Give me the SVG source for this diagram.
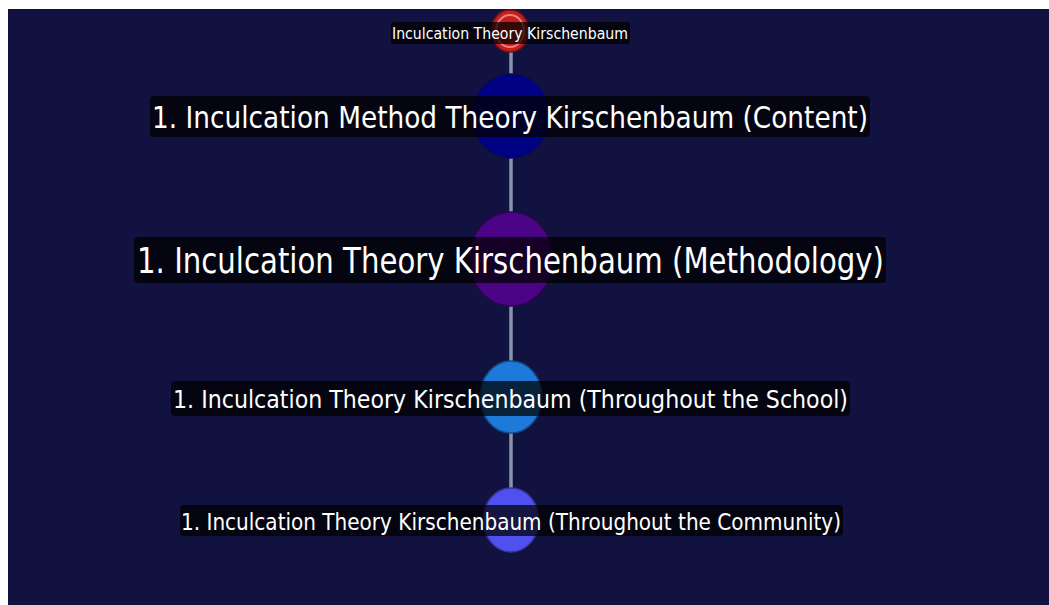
<svg xmlns="http://www.w3.org/2000/svg" width="1049" height="605" viewBox="0 0 1049 605">
  <style>
    .edge { stroke: #8595ad; stroke-width: 3.5; fill: none; }
    .lblbg { fill: #000000; fill-opacity: 0.72; }
    .lbl { fill: #ffffff; font-family: "DejaVu Sans", "Liberation Sans", sans-serif; text-anchor: start; }
  </style>
  <rect x="0" y="0" width="1049" height="605" fill="#ffffff"/>
  <rect x="8" y="9" width="1041" height="596" fill="#11123f"/>
  <g id="connectors">
    <line class="edge" x1="511" y1="31" x2="511" y2="116"/>
    <line class="edge" x1="511" y1="116" x2="511" y2="259"/>
    <line class="edge" x1="511" y1="259" x2="511" y2="397"/>
    <line class="edge" x1="511" y1="397" x2="511" y2="520"/>
  </g>
  <g id="node-root">
    <ellipse cx="510" cy="31" rx="19" ry="21" fill="#c41f1f" stroke="#7a1010" stroke-width="1.5"/>
    <ellipse cx="510" cy="31" rx="14" ry="16" fill="none" stroke="#f39a9a" stroke-width="2" stroke-opacity="0.8"/>
    <rect class="lblbg" x="391" y="22" width="239" height="22" rx="3"/>
    <text class="lbl" x="392" y="39" font-size="16.5" textLength="236" lengthAdjust="spacingAndGlyphs">Inculcation Theory Kirschenbaum</text>
  </g>
  <g id="node-content">
    <ellipse cx="511" cy="116" rx="39" ry="42" fill="#010183" stroke="#0a0a55" stroke-width="1.5"/>
    <rect class="lblbg" x="150" y="96" width="720" height="41" rx="4"/>
    <text class="lbl" x="152" y="128" font-size="30.5" textLength="716" lengthAdjust="spacingAndGlyphs">1. Inculcation Method Theory Kirschenbaum (Content)</text>
  </g>
  <g id="node-methodology">
    <ellipse cx="511" cy="259" rx="42" ry="47" fill="#4c0486" stroke="#2e0450" stroke-width="1.5"/>
    <rect class="lblbg" x="134" y="237" width="752" height="46" rx="4"/>
    <text class="lbl" x="137" y="273" font-size="35" textLength="747" lengthAdjust="spacingAndGlyphs">1. Inculcation Theory Kirschenbaum (Methodology)</text>
  </g>
  <g id="node-school">
    <ellipse cx="511" cy="397" rx="31" ry="36" fill="#1d7ad8" stroke="#154a8a" stroke-width="1.5"/>
    <rect class="lblbg" x="171" y="381" width="679" height="35" rx="4"/>
    <text class="lbl" x="173" y="408" font-size="25.5" textLength="675" lengthAdjust="spacingAndGlyphs">1. Inculcation Theory Kirschenbaum (Throughout the School)</text>
  </g>
  <g id="node-community">
    <ellipse cx="511" cy="520" rx="28" ry="32" fill="#5050ee" stroke="#3535a0" stroke-width="1.5"/>
    <rect class="lblbg" x="180" y="505" width="663" height="31" rx="4"/>
    <text class="lbl" x="181" y="530" font-size="23.5" textLength="660" lengthAdjust="spacingAndGlyphs">1. Inculcation Theory Kirschenbaum (Throughout the Community)</text>
  </g>
</svg>
